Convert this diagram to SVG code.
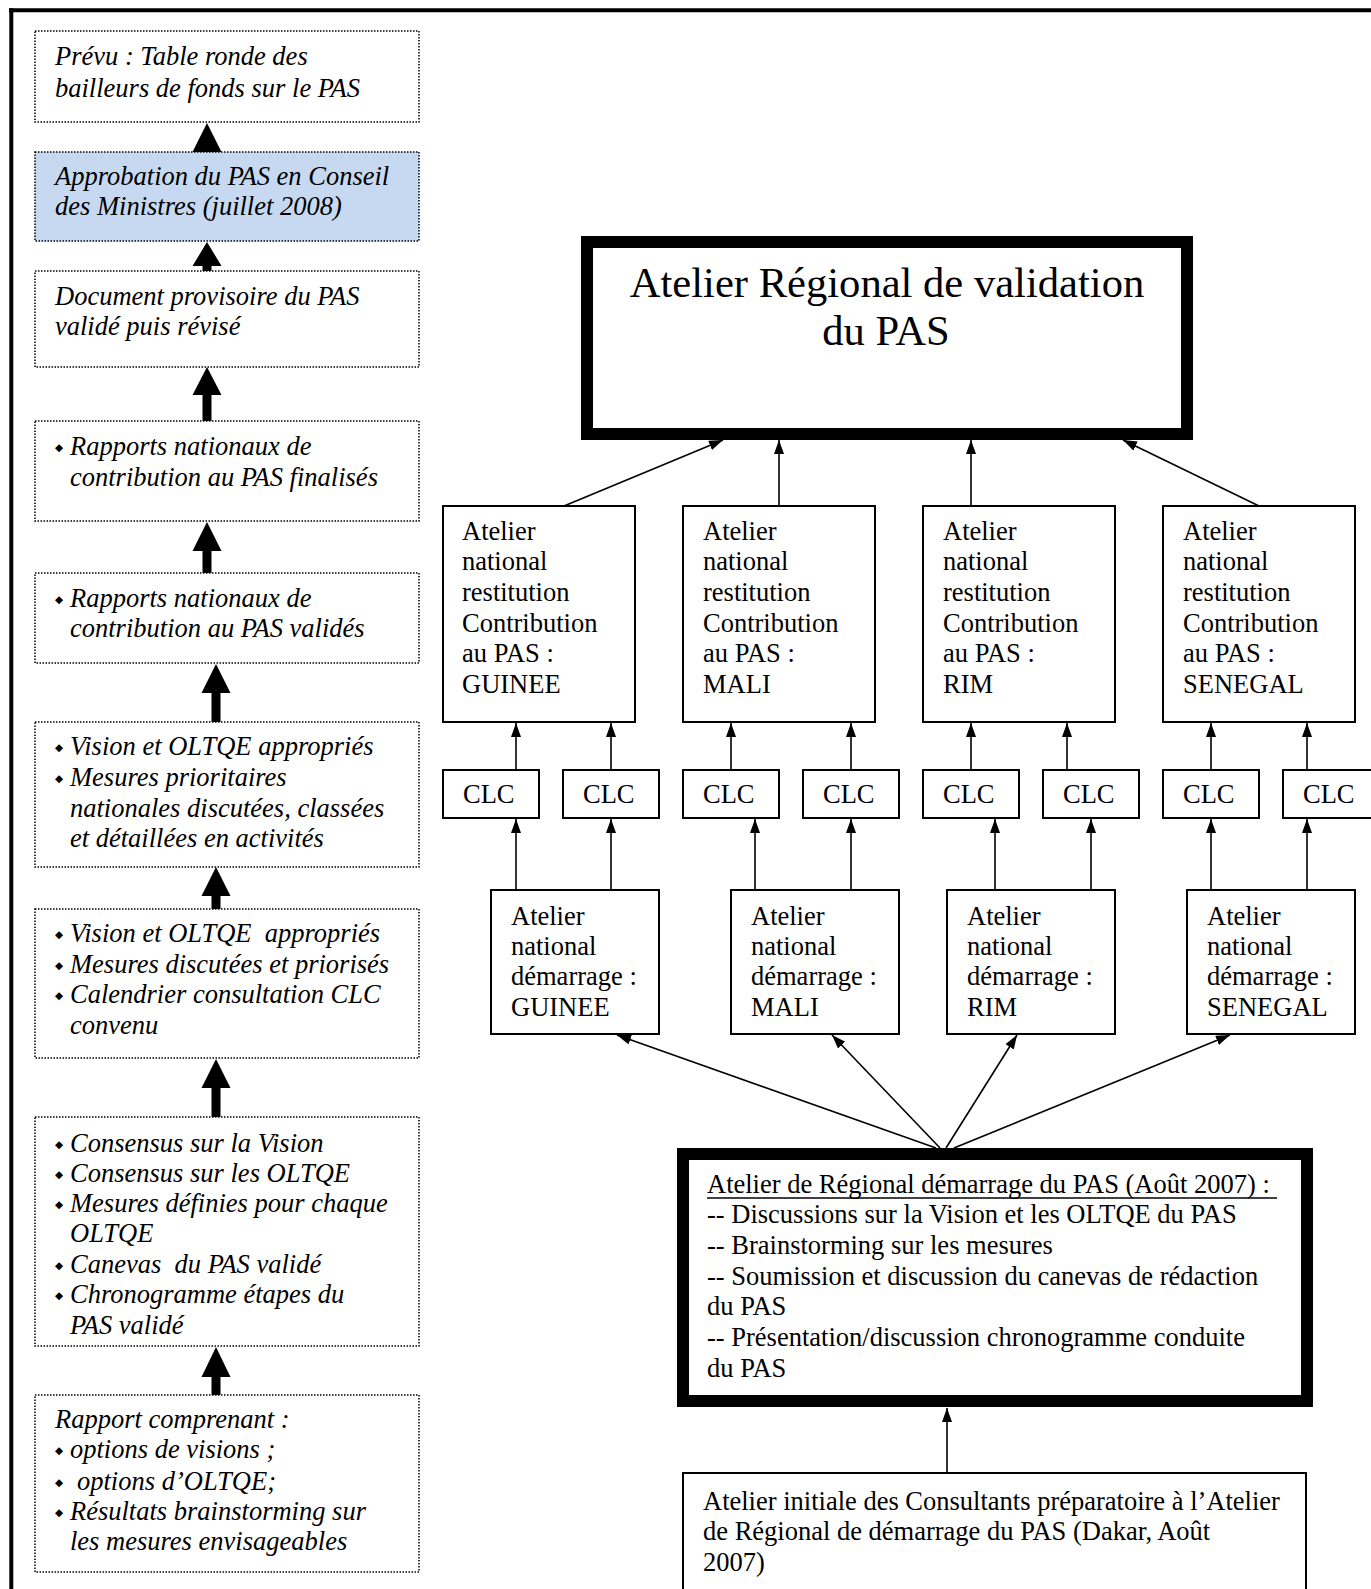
<svg xmlns="http://www.w3.org/2000/svg" width="1371" height="1589" viewBox="0 0 1371 1589">
<style>
.it{font-family:"Liberation Serif","Times New Roman",serif;font-style:italic;font-size:26.5px;fill:#000;white-space:pre}
.rg{font-family:"Liberation Serif","Times New Roman",serif;font-size:26.5px;fill:#000;white-space:pre}
.big{font-family:"Liberation Serif","Times New Roman",serif;font-size:42.6px;fill:#000}
.bul{font-family:"DejaVu Sans",sans-serif;font-size:10.5px;font-style:normal}
.dot{fill:#fff;stroke:#000;stroke-width:1.5;stroke-dasharray:1.5 1.5}
.box{fill:#fff;stroke:#000;stroke-width:2}
.thick{fill:#fff;stroke:#000;stroke-width:12}
.ln{stroke:#000;stroke-width:1.6;fill:none;marker-end:url(#ah)}
.fat{fill:#000}
</style>
<defs>
<marker id="ah" markerUnits="userSpaceOnUse" markerWidth="15" markerHeight="11" refX="14" refY="5" orient="auto">
<path d="M0,0 L14,5 L0,10 z" fill="#000"/>
</marker>
</defs>
<rect width="1371" height="1589" fill="#fff"/>
<g id="frame">
<line x1="9" y1="10.3" x2="1371" y2="10.3" stroke="#000" stroke-width="4"/>
<line x1="11.3" y1="8.3" x2="11.3" y2="1589" stroke="#000" stroke-width="4"/>
</g>

<g id="left1"><rect class="dot" x="35" y="31" width="384" height="91"/>
<text class="it" x="55" y="65">Prévu : Table ronde des</text>
<text class="it" x="55" y="97">bailleurs de fonds sur le PAS</text></g>

<g id="left2"><rect class="dot" x="35" y="152" width="384" height="89" style="fill:#c6d9f1"/>
<text class="it" x="55" y="185">Approbation du PAS en Conseil</text>
<text class="it" x="55" y="215">des Ministres (juillet 2008)</text></g>

<g id="left3"><rect class="dot" x="35" y="271" width="384" height="96"/>
<text class="it" x="55" y="305">Document provisoire du PAS</text>
<text class="it" x="55" y="335">validé puis révisé</text></g>

<g id="left4"><rect class="dot" x="35" y="421" width="384" height="100"/>
<text class="it" x="55" y="455"><tspan class="bul" dy="-4">◆</tspan><tspan x="70" dy="4">Rapports nationaux de</tspan></text>
<text class="it" x="70" y="486">contribution au PAS finalisés</text></g>

<g id="left5"><rect class="dot" x="35" y="573" width="384" height="90"/>
<text class="it" x="55" y="607"><tspan class="bul" dy="-4">◆</tspan><tspan x="70" dy="4">Rapports nationaux de</tspan></text>
<text class="it" x="70" y="637">contribution au PAS validés</text></g>

<g id="left6"><rect class="dot" x="35" y="722" width="384" height="145"/>
<text class="it" x="55" y="755"><tspan class="bul" dy="-4">◆</tspan><tspan x="70" dy="4">Vision et OLTQE appropriés</tspan></text>
<text class="it" x="55" y="786"><tspan class="bul" dy="-4">◆</tspan><tspan x="70" dy="4">Mesures prioritaires</tspan></text>
<text class="it" x="70" y="817">nationales discutées, classées</text>
<text class="it" x="70" y="847">et détaillées en activités</text></g>

<g id="left7"><rect class="dot" x="35" y="909" width="384" height="149"/>
<text class="it" x="55" y="942"><tspan class="bul" dy="-4">◆</tspan><tspan x="70" dy="4">Vision et OLTQE  appropriés</tspan></text>
<text class="it" x="55" y="973"><tspan class="bul" dy="-4">◆</tspan><tspan x="70" dy="4">Mesures discutées et priorisés</tspan></text>
<text class="it" x="55" y="1003"><tspan class="bul" dy="-4">◆</tspan><tspan x="70" dy="4">Calendrier consultation CLC</tspan></text>
<text class="it" x="70" y="1034">convenu</text></g>

<g id="left8"><rect class="dot" x="35" y="1117" width="384" height="229"/>
<text class="it" x="55" y="1152"><tspan class="bul" dy="-4">◆</tspan><tspan x="70" dy="4">Consensus sur la Vision</tspan></text>
<text class="it" x="55" y="1182"><tspan class="bul" dy="-4">◆</tspan><tspan x="70" dy="4">Consensus sur les OLTQE</tspan></text>
<text class="it" x="55" y="1212"><tspan class="bul" dy="-4">◆</tspan><tspan x="70" dy="4">Mesures définies pour chaque</tspan></text>
<text class="it" x="70" y="1242">OLTQE</text>
<text class="it" x="55" y="1273"><tspan class="bul" dy="-4">◆</tspan><tspan x="70" dy="4">Canevas  du PAS validé</tspan></text>
<text class="it" x="55" y="1303"><tspan class="bul" dy="-4">◆</tspan><tspan x="70" dy="4">Chronogramme étapes du</tspan></text>
<text class="it" x="70" y="1334">PAS validé</text></g>

<g id="left9"><rect class="dot" x="35" y="1395" width="384" height="177"/>
<text class="it" x="55" y="1428">Rapport comprenant :</text>
<text class="it" x="55" y="1458"><tspan class="bul" dy="-4">◆</tspan><tspan x="70" dy="4">options de visions ;</tspan></text>
<text class="it" x="55" y="1490"><tspan class="bul" dy="-4">◆</tspan><tspan x="77" dy="4">options d’OLTQE;</tspan></text>
<text class="it" x="55" y="1520"><tspan class="bul" dy="-4">◆</tspan><tspan x="70" dy="4">Résultats brainstorming sur</tspan></text>
<text class="it" x="70" y="1550">les mesures envisageables</text></g>

<g id="validation"><rect class="thick" x="587" y="242" width="600" height="192"/>
<text class="big" x="887" y="297" text-anchor="middle">Atelier Régional de validation</text>
<text class="big" x="886" y="345" text-anchor="middle">du PAS</text></g>

<g id="restit-guinee"><rect class="box" x="443" y="506" width="192" height="216"/>
<text class="rg" x="462" y="540">Atelier</text><text class="rg" x="462" y="570">national</text><text class="rg" x="462" y="601">restitution</text><text class="rg" x="462" y="632">Contribution</text><text class="rg" x="462" y="662">au PAS :</text><text class="rg" x="462" y="693">GUINEE</text></g>
<g id="restit-mali"><rect class="box" x="683" y="506" width="192" height="216"/>
<text class="rg" x="703" y="540">Atelier</text><text class="rg" x="703" y="570">national</text><text class="rg" x="703" y="601">restitution</text><text class="rg" x="703" y="632">Contribution</text><text class="rg" x="703" y="662">au PAS :</text><text class="rg" x="703" y="693">MALI</text></g>
<g id="restit-rim"><rect class="box" x="923" y="506" width="192" height="216"/>
<text class="rg" x="943" y="540">Atelier</text><text class="rg" x="943" y="570">national</text><text class="rg" x="943" y="601">restitution</text><text class="rg" x="943" y="632">Contribution</text><text class="rg" x="943" y="662">au PAS :</text><text class="rg" x="943" y="693">RIM</text></g>
<g id="restit-senegal"><rect class="box" x="1163" y="506" width="192" height="216"/>
<text class="rg" x="1183" y="540">Atelier</text><text class="rg" x="1183" y="570">national</text><text class="rg" x="1183" y="601">restitution</text><text class="rg" x="1183" y="632">Contribution</text><text class="rg" x="1183" y="662">au PAS :</text><text class="rg" x="1183" y="693">SENEGAL</text></g>

<g id="clc1"><rect class="box" x="443" y="770" width="96" height="48"/><text class="rg" x="463" y="803">CLC</text></g>
<g id="clc2"><rect class="box" x="563" y="770" width="96" height="48"/><text class="rg" x="583" y="803">CLC</text></g>
<g id="clc3"><rect class="box" x="683" y="770" width="96" height="48"/><text class="rg" x="703" y="803">CLC</text></g>
<g id="clc4"><rect class="box" x="803" y="770" width="96" height="48"/><text class="rg" x="823" y="803">CLC</text></g>
<g id="clc5"><rect class="box" x="923" y="770" width="96" height="48"/><text class="rg" x="943" y="803">CLC</text></g>
<g id="clc6"><rect class="box" x="1043" y="770" width="96" height="48"/><text class="rg" x="1063" y="803">CLC</text></g>
<g id="clc7"><rect class="box" x="1163" y="770" width="96" height="48"/><text class="rg" x="1183" y="803">CLC</text></g>
<g id="clc8"><rect class="box" x="1283" y="770" width="96" height="48"/><text class="rg" x="1303" y="803">CLC</text></g>

<g id="dem-guinee"><rect class="box" x="491" y="890" width="168" height="144"/>
<text class="rg" x="511" y="925">Atelier</text><text class="rg" x="511" y="955">national</text><text class="rg" x="511" y="985">démarrage :</text><text class="rg" x="511" y="1016">GUINEE</text></g>
<g id="dem-mali"><rect class="box" x="731" y="890" width="168" height="144"/>
<text class="rg" x="751" y="925">Atelier</text><text class="rg" x="751" y="955">national</text><text class="rg" x="751" y="985">démarrage :</text><text class="rg" x="751" y="1016">MALI</text></g>
<g id="dem-rim"><rect class="box" x="947" y="890" width="168" height="144"/>
<text class="rg" x="967" y="925">Atelier</text><text class="rg" x="967" y="955">national</text><text class="rg" x="967" y="985">démarrage :</text><text class="rg" x="967" y="1016">RIM</text></g>
<g id="dem-senegal"><rect class="box" x="1187" y="890" width="168" height="144"/>
<text class="rg" x="1207" y="925">Atelier</text><text class="rg" x="1207" y="955">national</text><text class="rg" x="1207" y="985">démarrage :</text><text class="rg" x="1207" y="1016">SENEGAL</text></g>

<g id="regional-demarrage"><rect class="thick" x="683" y="1154" width="624" height="247"/>
<text class="rg" x="707" y="1193">Atelier de Régional démarrage du PAS (Août 2007) :</text>
<line x1="707" y1="1198" x2="1277" y2="1198" stroke="#000" stroke-width="1.5"/>
<text class="rg" x="707" y="1223">-- Discussions sur la Vision et les OLTQE du PAS</text>
<text class="rg" x="707" y="1254">-- Brainstorming sur les mesures</text>
<text class="rg" x="707" y="1285">-- Soumission et discussion du canevas de rédaction</text>
<text class="rg" x="707" y="1315">du PAS</text>
<text class="rg" x="707" y="1346">-- Présentation/discussion chronogramme conduite</text>
<text class="rg" x="707" y="1377">du PAS</text></g>

<g id="initial"><rect class="box" x="683" y="1473" width="623" height="130"/>
<text class="rg" x="703" y="1510">Atelier initiale des Consultants préparatoire à l’Atelier</text>
<text class="rg" x="703" y="1540">de Régional de démarrage du PAS (Dakar, Août</text>
<text class="rg" x="703" y="1571">2007)</text></g>

<g id="connectors">
<path class="fat" d="M192.5,152 L207,123 L221.5,152 z"/>
<path class="fat" d="M202.5,271 V266 H192.5 L207,242 L221.5,266 H211.5 V271 z"/>
<path class="fat" d="M202.5,421 V395 H192.5 L207,367 L221.5,395 H211.5 V421 z"/>
<path class="fat" d="M202.5,573 V551 H192.5 L207,522 L221.5,551 H211.5 V573 z"/>
<path class="fat" d="M211.5,722 V693 H201.5 L216,664 L230.5,693 H220.5 V722 z"/>
<path class="fat" d="M211.5,909 V896 H201.5 L216,867 L230.5,896 H220.5 V909 z"/>
<path class="fat" d="M211.5,1117 V1088 H201.5 L216,1059 L230.5,1088 H220.5 V1117 z"/>
<path class="fat" d="M211.5,1395 V1377 H201.5 L216,1347 L230.5,1377 H220.5 V1395 z"/>

<line class="ln" x1="564" y1="506" x2="723" y2="440"/>
<line class="ln" x1="779" y1="506" x2="779" y2="440"/>
<line class="ln" x1="971" y1="506" x2="971" y2="440"/>
<line class="ln" x1="1259" y1="506" x2="1123" y2="440"/>

<line class="ln" x1="516" y1="770" x2="516" y2="723"/>
<line class="ln" x1="611" y1="770" x2="611" y2="723"/>
<line class="ln" x1="731" y1="770" x2="731" y2="723"/>
<line class="ln" x1="851" y1="770" x2="851" y2="723"/>
<line class="ln" x1="971" y1="770" x2="971" y2="723"/>
<line class="ln" x1="1067" y1="770" x2="1067" y2="723"/>
<line class="ln" x1="1211" y1="770" x2="1211" y2="723"/>
<line class="ln" x1="1307" y1="770" x2="1307" y2="723"/>

<line class="ln" x1="516" y1="890" x2="516" y2="819"/>
<line class="ln" x1="611" y1="890" x2="611" y2="819"/>
<line class="ln" x1="755" y1="890" x2="755" y2="819"/>
<line class="ln" x1="851" y1="890" x2="851" y2="819"/>
<line class="ln" x1="995" y1="890" x2="995" y2="819"/>
<line class="ln" x1="1091" y1="890" x2="1091" y2="819"/>
<line class="ln" x1="1211" y1="890" x2="1211" y2="819"/>
<line class="ln" x1="1307" y1="890" x2="1307" y2="819"/>

<line class="ln" x1="936" y1="1148" x2="617" y2="1035"/>
<line class="ln" x1="940" y1="1148" x2="832" y2="1035"/>
<line class="ln" x1="946" y1="1148" x2="1017" y2="1035"/>
<line class="ln" x1="954" y1="1148" x2="1230" y2="1035"/>

<line class="ln" x1="947" y1="1473" x2="947" y2="1408"/>
</g>
</svg>
